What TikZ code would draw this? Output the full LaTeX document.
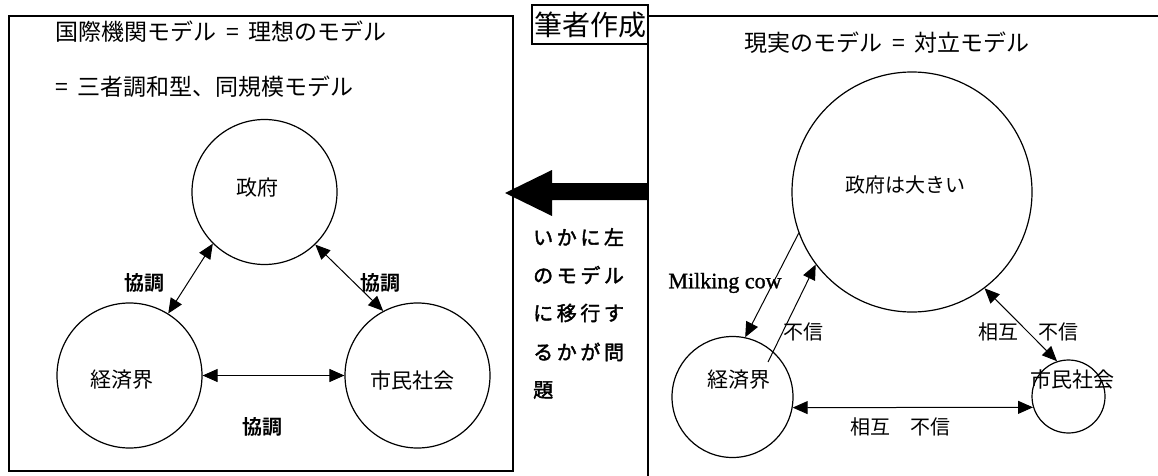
\documentclass[tikz,border=0pt]{standalone}
\usepackage{fontspec}
\setmainfont{Noto Sans CJK JP}[BoldFont={Noto Sans CJK JP Bold}]
\newfontfamily\midfont{Noto Sans CJK JP}[FakeBold=2]
\newfontfamily\serifen{Liberation Serif}[FakeBold=1.2]
\usetikzlibrary{arrows.meta}
\tikzset{
  frame/.style={line width=1.5pt},
  circ/.style={draw, circle, line width=1.2pt, inner sep=0pt},
  tip/.tip={Triangle[length=15pt,width=13pt]},
  both/.style={line width=1pt, tip-tip},
  one/.style={line width=1pt, -tip},
  lbl/.style={inner sep=0pt, font=\fontsize{21}{24}\selectfont},
  blbl/.style={inner sep=0pt, font=\fontsize{20}{24}\selectfont\bfseries},
  ttl/.style={inner sep=0pt, font=\fontsize{23}{26}\selectfont},
  mid/.style={inner sep=0pt, anchor=west, font=\fontsize{20}{24}\midfont\addfontfeature{LetterSpace=18}},
}
\begin{document}
\begin{tikzpicture}[x=1pt,y=-1pt]
\useasboundingbox (0,0) rectangle (1158,476);
% frames
\draw[frame] (9,16) rectangle (513,471);
\draw[frame] (648,476) -- (648,5);
\draw[frame] (648,16) -- (1158,16);
\node[draw, line width=1.5pt, minimum width=116pt, minimum height=39pt, inner sep=0pt,
      font=\fontsize{28}{30}\selectfont] (author) at (590,24.5) {筆者作成};
% big arrow
\fill (648,183) -- (552,183) -- (552,170) -- (505,193) -- (552,216) -- (552,200) -- (648,200) -- cycle;
% titles
\node[ttl, anchor=west] (t1) at (55,32) {国際機関モデル\hspace{10pt}=\hspace{10pt}理想のモデル};
\node[ttl, anchor=west] (t2) at (55,87) {=\hspace{10pt}三者調和型、同規模モデル};
\node[ttl] (t3) at (887,43) {現実のモデル\hspace{10pt}=\hspace{10pt}対立モデル};
% middle text
\node[mid] (m1) at (533,237) {いかに左};
\node[mid] (m2) at (533,275) {のモデル};
\node[mid] (m3) at (533,313) {に移行す};
\node[mid] (m4) at (533,352) {るかが問};
\node[mid] (m5) at (533,390) {題};
% left model
\node[circ, minimum size=145pt] (seifu) at (264.5,192) {};
\node[circ, minimum size=145pt] (keiL) at (129.5,375.5) {};
\node[circ, minimum size=145pt] (shiminL) at (417.5,375.5) {};
\node[lbl] (seifuT) at (257,188) {政府};
\node[lbl] (keiLT) at (122,380) {経済界};
\node[lbl] (shiminLT) at (412,380) {市民社会};
\draw[both] (keiL.58) -- (seifu.225);
\draw[both] (seifu.314) -- (shiminL.118);
\draw[both] (keiL) -- (shiminL);
\node[blbl] (kA) at (144,283) {協調};
\node[blbl] (kB) at (380,283) {協調};
\node[blbl] (kC) at (262,427) {協調};
% right model
\node[circ, minimum size=240pt] (big) at (912,192) {};
\node[circ, minimum size=121pt] (keiR) at (732.5,397) {};
\node[circ, minimum size=73pt] (shiminR) at (1068.5,396.5) {};
\node[lbl, font=\fontsize{20}{24}\selectfont] (bigT) at (905,185) {政府は大きい};
\node[lbl] (keiRT) at (739,380) {経済界};
\node[lbl] (shiminRT) at (1072.5,379) {市民社会};
\coordinate (fs) at (768,362);
\draw[one] (big.200) -- (keiR.78);
\draw[one] (fs) -- (big.217.5);
\draw[both] (big.307) -- (shiminR.108);
\draw[both] (keiR.-10.5) -- (shiminR.197.5);
\node[inner sep=0pt, font=\fontsize{22}{24}\serifen] (milk) at (725,283) {Milking cow};
\node[lbl, font=\fontsize{20}{24}\selectfont] (fA) at (803,332) {不信};
\node[lbl, font=\fontsize{20}{24}\selectfont] (fB) at (1028,332) {相互　不信};
\node[lbl, font=\fontsize{20}{24}\selectfont] (fC) at (900,427) {相互　不信};
\end{tikzpicture}
\end{document}
